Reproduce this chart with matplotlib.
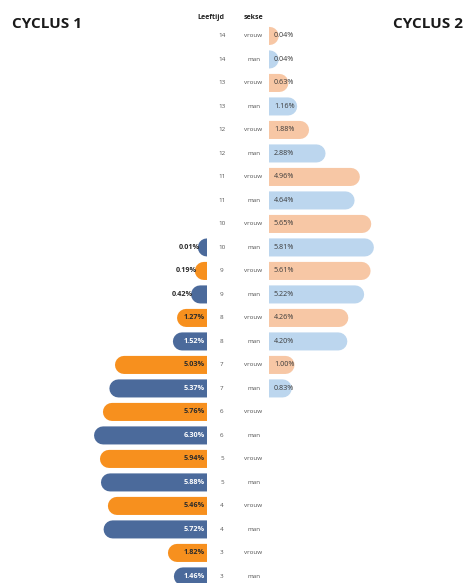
import numpy as np
import matplotlib
matplotlib.use('Agg')
import matplotlib.pyplot as plt

plt.rcParams['font.family'] = ['Open Sans', 'DejaVu Sans']
plt.rcParams['path.simplify'] = False

# data, top row first
ages = [14, 14, 13, 13, 12, 12, 11, 11, 10, 10, 9, 9,
        8, 8, 7, 7, 6, 6, 5, 5, 4, 4, 3, 3]
sexes = ['vrouw', 'man'] * 12
cyclus1 = [np.nan] * 9 + [0.01, 0.19, 0.42, 1.27, 1.52, 5.03, 5.37,
                          5.76, 6.30, 5.94, 5.88, 5.46, 5.72, 1.82, 1.46]
cyclus2 = [0.04, 0.04, 0.63, 1.16, 1.88, 2.88, 4.96, 4.64, 5.65, 5.81,
           5.61, 5.22, 4.26, 4.20, 1.00, 0.83] + [np.nan] * 8

# colours
c1 = {'vrouw': '#F7901E', 'man': '#4B6A9B'}
c2 = {'vrouw': '#F7C7A5', 'man': '#BCD6EE'}
txt1 = {'vrouw': '#2b2b2b', 'man': 'white'}

W, H = 467, 583
fig = plt.figure(figsize=(W / 100, H / 100), dpi=100)

rows = np.arange(len(ages))
ylim = (23.28, -1.53)
px = 16.5  # pixels per percent point

axL = fig.add_axes([0, 0, 207 / W, 1])
axM = fig.add_axes([207 / W, 0, 62 / W, 1])
axR = fig.add_axes([269 / W, 0, 198 / W, 1])
axL.set_xlim(207 / px, 0)
axR.set_xlim(0, 198 / px)
axM.set_xlim(0, 1)
for ax in (axL, axM, axR):
    ax.set_ylim(*ylim)
    ax.axis('off')

lw = 13
cap = lw / 72 * 100 / 2 / px  # round cap length in data units

# cyclus 1 (left, growing to the left)
for y, v, s in zip(rows, cyclus1, sexes):
    if np.isnan(v):
        continue
    axL.plot([0, v], [y, y], color=c1[s], lw=lw, solid_capstyle='round',
             snap=False)
    lab = f'{v:.2f}%'
    if v >= 1:
        axL.text(0.15, y, lab, ha='right', va='center', fontsize=5.2,
                 color=txt1[s], fontweight='bold')
    else:
        axL.text(v + cap * 0.75, y, lab, ha='right', va='center', fontsize=5.2,
                 color='#2b2b2b', fontweight='bold')

# cyclus 2 (right)
for y, v, s in zip(rows, cyclus2, sexes):
    if np.isnan(v):
        continue
    axR.plot([0, v], [y, y], color=c2[s], lw=lw, solid_capstyle='round',
             snap=False)
    axR.text(0.3, y, f'{v:.2f}%', ha='left', va='center', fontsize=5.2,
             color='#3a3a3a')

# middle columns
axM.text(0.07, -0.77, 'Leeftijd', ha='center', va='center', fontsize=5,
         fontweight='bold', color='#222222', clip_on=False)
axM.text(0.75, -0.77, 'sekse', ha='center', va='center', fontsize=5,
         fontweight='bold', color='#222222')
for y, a, s in zip(rows, ages, sexes):
    axM.text(0.24, y, str(a), ha='center', va='center', fontsize=4.5,
             color='#555555')
    axM.text(0.75, y, s, ha='center', va='center', fontsize=4.5,
             color='#555555')

fig.text(12 / W, 1 - 24 / H, 'CYCLUS 1', ha='left', va='center',
         fontsize=11, fontweight='bold', color='#1a1a1a')
fig.text(463 / W, 1 - 24 / H, 'CYCLUS 2', ha='right', va='center',
         fontsize=11, fontweight='bold', color='#1a1a1a')

fig.savefig('out.png', dpi=100)
